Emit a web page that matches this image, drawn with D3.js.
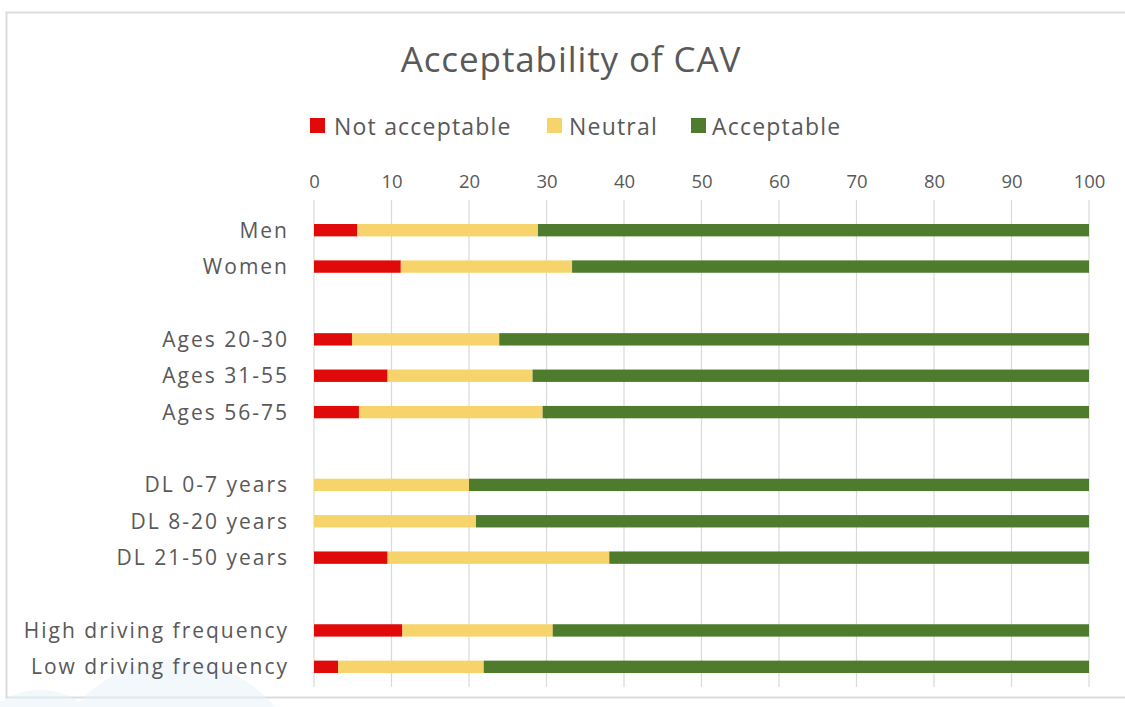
<!DOCTYPE html>
<html>
<head>
<meta charset="utf-8">
<script src="https://cdn.jsdelivr.net/npm/d3@7"></script>
<style>
  html, body { margin: 0; padding: 0; background: #fff; }
  svg { display: block; font-family: "Open Sans", "Noto Sans", sans-serif; }
</style>
</head>
<body>
<svg id="chart" width="1125" height="707"></svg>
<script>
// Survey groups, top to bottom; empty strings mark the spacer rows between groups
const categories = [
  "Men", "Women", "",
  "Ages 20-30", "Ages 31-55", "Ages 56-75", "",
  "DL 0-7 years", "DL 8-20 years", "DL 21-50 years", "",
  "High driving frequency", "Low driving frequency"
];
const notAcceptable = [5.6, 11.2, null, 4.9, 9.5, 5.8, null, 0, 0, 9.5, null, 11.4, 3.1];
const neutral       = [23.3, 22.1, null, 19.0, 18.7, 23.7, null, 20.0, 20.9, 28.6, null, 19.4, 18.8];
const acceptable    = [71.1, 66.7, null, 76.1, 71.8, 70.5, null, 80.0, 79.1, 61.9, null, 69.2, 78.1];
const seriesNames = ["Not acceptable", "Neutral", "Acceptable"];
const tickValues = [0, 10, 20, 30, 40, 50, 60, 70, 80, 90, 100];

const colors = ["#e00a0a", "#f6d46b", "#4f7b2d"];
const textColor = "#595959";

const svg = d3.select("#chart");

// light frame around the chart area
svg.append("rect")
  .attr("x", 6.5).attr("y", 12.5)
  .attr("width", 1130).attr("height", 685)
  .attr("fill", "#fff")
  .attr("stroke", "#dcdcdc").attr("stroke-width", 2);

// faint decorative shape in the lower-left corner
const deco = svg.append("g").attr("opacity", 0.5);
deco.append("circle").attr("cx", 175).attr("cy", 790).attr("r", 130).attr("fill", "#e6f2f8");
deco.append("circle").attr("cx", 40).attr("cy", 760).attr("r", 70).attr("fill", "#e6f2f8");

const x = d3.scaleLinear().domain([0, 100]).range([314, 1089]);
const y = d3.scaleBand()
  .domain(d3.range(categories.length))
  .range([212, 685])
  .paddingInner(0.66)
  .paddingOuter(0.33);

// vertical gridlines
svg.append("g")
  .selectAll("line")
  .data(tickValues)
  .join("line")
  .attr("x1", d => x(d)).attr("x2", d => x(d))
  .attr("y1", 200).attr("y2", 687)
  .attr("stroke", "#d9d9d9").attr("stroke-width", 1.2);

// top axis labels
const axis = d3.axisTop(x).tickValues(tickValues).tickSize(0).tickPadding(0);
const ax = svg.append("g").attr("transform", "translate(0,188)").call(axis);
ax.select(".domain").remove();
ax.selectAll("text")
  .attr("fill", textColor)
  .style("font-size", "18.5px")
  .style("font-family", "'Open Sans', sans-serif");

// stacked rows
const rows = categories.map((c, i) => ({ i, c })).filter(d => d.c !== "");
const stackData = rows.map(r => ({
  i: r.i, na: notAcceptable[r.i], ne: neutral[r.i], ac: acceptable[r.i]
}));
const stacked = d3.stack().keys(["na", "ne", "ac"])(stackData);

svg.append("g")
  .selectAll("g")
  .data(stacked)
  .join("g")
  .attr("fill", (d, k) => colors[k])
  .selectAll("rect")
  .data(d => d)
  .join("rect")
  .attr("x", d => x(d[0]))
  .attr("width", d => Math.max(0, x(d[1]) - x(d[0])))
  .attr("y", d => y(d.data.i))
  .attr("height", y.bandwidth());

// category labels
svg.append("g")
  .selectAll("text")
  .data(rows)
  .join("text")
  .attr("x", 289)
  .attr("y", d => y(d.i) + y.bandwidth() / 2)
  .attr("dy", "0.36em")
  .attr("text-anchor", "end")
  .attr("fill", textColor)
  .style("font-size", "21px")
  .style("letter-spacing", "2px")
  .text(d => d.c);

// title
svg.append("text")
  .attr("x", 571).attr("y", 72)
  .attr("text-anchor", "middle")
  .attr("fill", textColor)
  .style("font-size", "35px")
  .style("letter-spacing", "0.9px")
  .text("Acceptability of CAV");

// legend
const legendSq = [310, 547, 691];
const legendTx = [334, 569, 712];
const lg = svg.append("g")
  .selectAll("g")
  .data(seriesNames)
  .join("g");
lg.append("rect")
  .attr("x", (d, k) => legendSq[k]).attr("y", 118)
  .attr("width", 15).attr("height", 15)
  .attr("fill", (d, k) => colors[k]);
lg.append("text")
  .attr("x", (d, k) => legendTx[k]).attr("y", 135)
  .attr("fill", textColor)
  .style("font-size", "23px")
  .style("letter-spacing", "1.2px")
  .text(d => d);
</script>
</body>
</html>
